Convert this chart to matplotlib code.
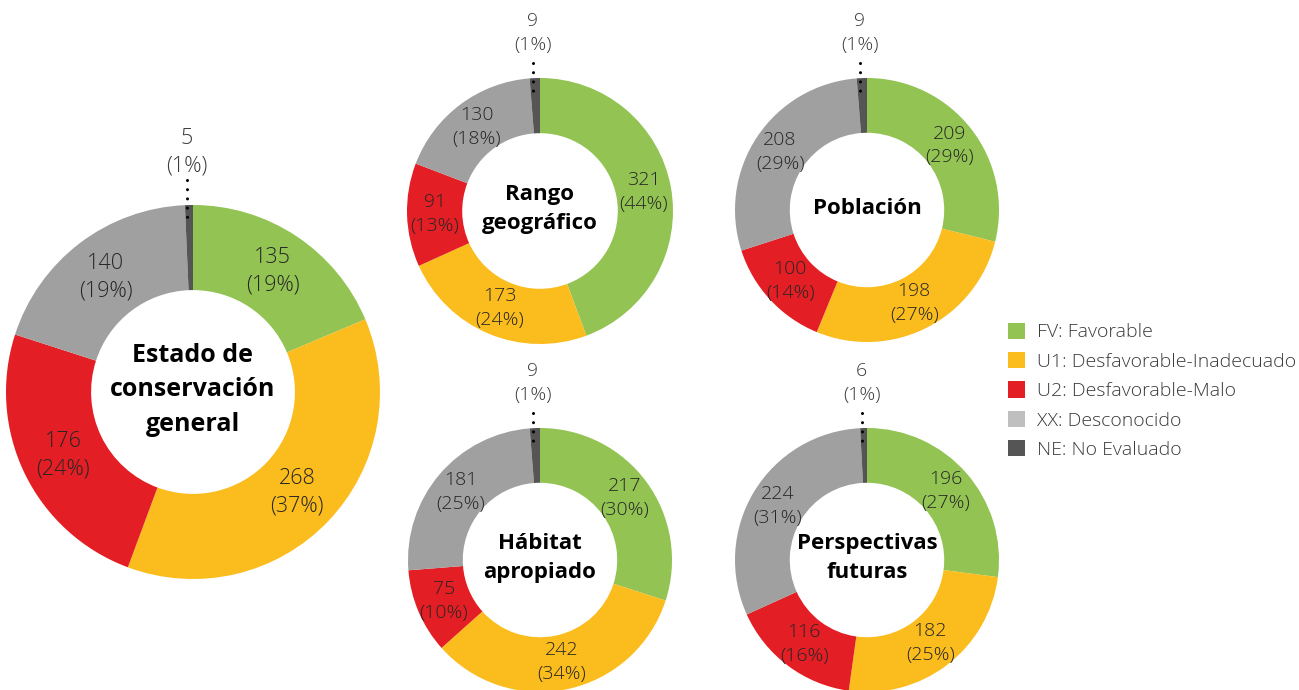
import numpy as np
import matplotlib.pyplot as plt
from matplotlib.patches import Patch

plt.rcParams['font.family'] = ['Open Sans', 'DejaVu Sans']

# datos (FV, U1, U2, XX, NE)
titulos = ['Estado de\nconservación\ngeneral', 'Rango\ngeográfico', 'Población',
           'Hábitat\napropiado', 'Perspectivas\nfuturas']
estado_general = [135, 268, 176, 140, 5]
rango = [321, 173, 91, 130, 9]
poblacion = [209, 198, 100, 208, 9]
habitat = [217, 242, 75, 181, 9]
perspectivas = [196, 182, 116, 224, 6]
pct_estado_general = [19, 37, 24, 19, 1]
pct_rango = [44, 24, 13, 18, 1]
pct_poblacion = [29, 27, 14, 29, 1]
pct_habitat = [30, 34, 10, 25, 1]
pct_perspectivas = [27, 25, 16, 31, 1]
categorias = ['FV: Favorable', 'U1: Desfavorable-Inadecuado', 'U2: Desfavorable-Malo',
              'XX: Desconocido', 'NE: No Evaluado']

colores = ['#92C353', '#FBBC1D', '#E31E24', '#A0A0A0', '#555555']
colores_leyenda = ['#92C353', '#FBBC1D', '#E31E24', '#BFBFBF', '#555555']
gris_texto = '#262626'

W, H = 1299, 690
fig = plt.figure(figsize=(W / 100, H / 100), dpi=100)
ax = fig.add_axes([0, 0, 1, 1])

# centro (px desde arriba), radio, fracción interior, tamaño etiqueta, tamaño título,
# distancia del texto NE sobre el borde, inicio de los puntos sobre el borde
donas = [
    (estado_general, pct_estado_general, (193, 392), 187, 0.545, 15.5, 18, 53, 25),
    (rango, pct_rango, (540, 211), 133, 0.585, 14, 16, 45, 15),
    (poblacion, pct_poblacion, (867, 210), 132, 0.585, 14, 16, 45, 15),
    (habitat, pct_habitat, (540, 560), 132, 0.585, 14, 16, 45, 15),
    (perspectivas, pct_perspectivas, (867, 560), 132, 0.585, 14, 16, 45, 15),
]

for k, (vals, pcts, (cx, cy_px), r, f_in, fs, fs_t, d_ne, d_pts) in enumerate(donas):
    cy = H - cy_px
    wedges, _ = ax.pie(vals, colors=colores, startangle=90, counterclock=False,
                       center=(cx, cy), radius=r, frame=True,
                       wedgeprops=dict(width=r * (1 - f_in), linewidth=0))
    r_mid = r * (1 + f_in) / 2
    for i, w in enumerate(wedges):
        etiqueta = f'{vals[i]}\n({pcts[i]}%)'
        ang = np.deg2rad((w.theta1 + w.theta2) / 2)
        if i == len(vals) - 1:
            x0 = cx + r * np.cos(ang) - 2
            ax.text(x0, cy + r + d_ne, etiqueta, ha='center', va='center',
                    fontsize=fs, color='#3A3A3A', linespacing=1.42, fontweight='light')
            ax.plot([x0, x0], [cy + r + d_pts, cy + r - 13], color='black', lw=2.2,
                    linestyle=(0, (0.01, 3)), dash_capstyle='round')
        else:
            ax.text(cx + r_mid * np.cos(ang), cy + r_mid * np.sin(ang), etiqueta,
                    ha='center', va='center', fontsize=fs, color=gris_texto,
                    linespacing=1.42, fontweight='light')
    ax.text(cx, cy + 2, titulos[k], ha='center', va='center', fontsize=fs_t,
            fontweight='bold', color='black', linespacing=1.52)

ax.set_xlim(0, W)
ax.set_ylim(0, H)
ax.set_aspect('equal')
ax.axis('off')

handles = [Patch(facecolor=c, edgecolor='none') for c in colores_leyenda]
fig.legend(handles, categorias, loc='upper left', bbox_to_anchor=(990 / W, 1 - 305 / H),
           frameon=False, prop=dict(size=14, weight='light'), labelcolor='#3A3A3A',
           handlelength=0.92, handleheight=0.92, handletextpad=0.58, labelspacing=0.54)

fig.savefig('out.png', dpi=100)
